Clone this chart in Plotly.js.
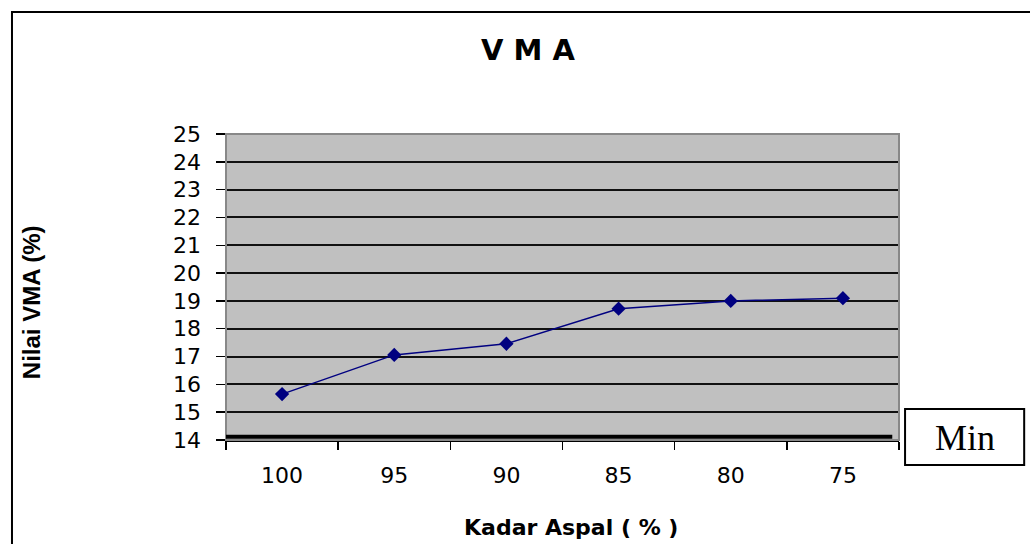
<!DOCTYPE html>
<html>
<head>
<meta charset="utf-8">
<script src="https://cdn.plot.ly/plotly-3.0.1.min.js"></script>
<style>html,body{margin:0;padding:0;background:#fff}#chart{width:1030px;height:544px}</style>
</head>
<body>
<div id="chart"></div>
<script>
const categories = ["100", "95", "90", "85", "80", "75"];
const vmaValues = [15.65, 17.06, 17.46, 18.72, 19.0, 19.1];
const minVMA = 14.12;
const yTickValues = [14, 15, 16, 17, 18, 19, 20, 21, 22, 23, 24, 25];

const trace = {
  x: categories,
  y: vmaValues,
  type: 'scatter',
  mode: 'lines+markers',
  line: {color: '#000080', width: 1.5},
  marker: {symbol: 'diamond', size: 11, color: '#000080'},
  showlegend: false,
  hoverinfo: 'x+y'
};

const tickFont = {size: 22, family: 'DejaVu Sans, sans-serif', color: '#000'};

const layout = {
  width: 1030, height: 544,
  margin: {l: 226, r: 131, t: 134, b: 104, pad: 0},
  paper_bgcolor: '#ffffff',
  plot_bgcolor: '#c0c0c0',
  font: {family: 'DejaVu Sans, sans-serif', color: '#000'},
  showlegend: false,
  xaxis: {
    type: 'category',
    range: [-0.5, 5.5],
    tickson: 'boundaries',
    ticks: 'outside', ticklen: 8, tickwidth: 1.5, tickcolor: '#000',
    showline: true, linecolor: '#000', linewidth: 1.5,
    showgrid: false, zeroline: false,
    tickfont: tickFont,
    ticklabelstandoff: 15,
    fixedrange: true
  },
  yaxis: {
    range: [14, 25],
    tickvals: yTickValues,
    ticktext: yTickValues.map(String),
    ticks: 'outside', ticklen: 9, tickwidth: 1.5, tickcolor: '#000',
    showline: true, linecolor: '#000', linewidth: 1.5,
    showgrid: true, gridcolor: '#111', gridwidth: 2,
    zeroline: false,
    tickfont: tickFont,
    ticklabelstandoff: 10,
    fixedrange: true
  },
  shapes: [
    {type: 'rect', xref: 'paper', yref: 'paper',
     x0: -0.318, x1: 1.25, y0: -0.4, y1: 1.399,
     line: {color: '#000', width: 2}, fillcolor: 'rgba(0,0,0,0)', layer: 'below'},
    {type: 'rect', xref: 'paper', yref: 'paper',
     x0: 0, x1: 1, y0: 0, y1: 1,
     line: {color: '#888', width: 2}, fillcolor: 'rgba(0,0,0,0)', layer: 'above'},
    {type: 'line', xref: 'paper', yref: 'y',
     x0: 0, x1: 0.99, y0: minVMA, y1: minVMA,
     line: {color: '#000', width: 4}},
    {type: 'rect', xref: 'paper', yref: 'paper',
     x0: 1.009, x1: 1.186, y0: -0.082, y1: 0.101,
     line: {color: '#000', width: 2}, fillcolor: '#fff'}
  ],
  annotations: [
    {text: '<b>V M A</b>', xref: 'paper', yref: 'paper', x: 0.449, y: 1.275,
     xanchor: 'center', yanchor: 'middle', showarrow: false,
     font: {size: 29, family: 'DejaVu Sans, sans-serif'}},
    {text: '<b>Nilai VMA (%)</b>', xref: 'paper', yref: 'paper', x: -0.288, y: 0.451,
     xanchor: 'center', yanchor: 'middle', showarrow: false, textangle: -90,
     font: {size: 24, family: 'Liberation Sans, Arial, sans-serif'}},
    {text: '<b>Kadar Aspal ( % )</b>', xref: 'paper', yref: 'paper', x: 0.513, y: -0.287,
     xanchor: 'center', yanchor: 'middle', showarrow: false,
     font: {size: 22, family: 'DejaVu Sans, sans-serif'}},
    {text: 'Min', xref: 'paper', yref: 'paper', x: 1.0975, y: 0.005,
     xanchor: 'center', yanchor: 'middle', showarrow: false,
     font: {size: 36, family: 'Liberation Serif, Times New Roman, serif'}}
  ]
};

Plotly.newPlot('chart', [trace], layout, {displayModeBar: false, staticPlot: true});
</script>
</body>
</html>
